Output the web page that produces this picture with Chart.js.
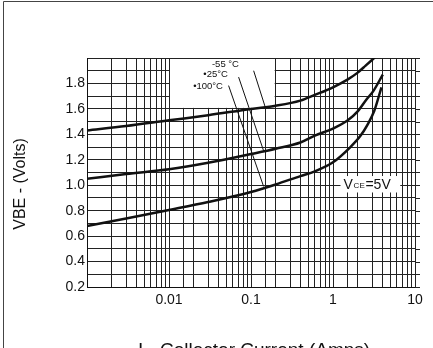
<!DOCTYPE html>
<html>
<head>
<meta charset="utf-8">
<script src="https://cdn.jsdelivr.net/npm/chart.js@4.4.1/dist/chart.umd.min.js"></script>
<style>
  html, body { margin: 0; padding: 0; background: #fff; }
  canvas { display: block; }
</style>
</head>
<body>
<canvas id="vbe-chart" width="433" height="348"></canvas>
<script>
// Ic (Amps) vs VBE (Volts)
const currents55 = [0.001, 0.003, 0.01, 0.03, 0.1, 0.2, 0.4, 0.6, 1, 1.5, 2, 2.5, 3.3];
const vbe55 = [1.43, 1.465, 1.51, 1.55, 1.60, 1.625, 1.665, 1.71, 1.77, 1.83, 1.885, 1.94, 2.01];

const currents25 = [0.001, 0.003, 0.01, 0.03, 0.1, 0.2, 0.4, 0.6, 1, 1.5, 2, 2.6, 3.1, 4.05];
const vbe25 = [1.05, 1.088, 1.125, 1.176, 1.245, 1.287, 1.336, 1.39, 1.445, 1.508, 1.58, 1.68, 1.74, 1.87];

const currents100 = [0.001, 0.003, 0.01, 0.03, 0.1, 0.2, 0.4, 0.6, 1, 1.63, 2.15, 2.62, 3.18, 3.9];
const vbe100 = [0.68, 0.738, 0.805, 0.868, 0.947, 1.006, 1.072, 1.109, 1.18, 1.30, 1.386, 1.473, 1.583, 1.77];

// leader lines from the temperature labels down to the curves
const tempLabels = ['-55 °C', '•25°C', '•100°C'];
const leaderCurrents = [[0.1077, 0.149], [0.0706, 0.1425], [0.0533, 0.1425]];
const leaderVbe = [[1.90, 1.615], [1.85, 1.27], [1.783, 0.99]];

const xTickValues = [0.01, 0.1, 1, 10];
const yTickLabels = ['0.2', '0.4', '0.6', '0.8', '1.0', '1.2', '1.4', '1.6', '1.8'];

const FONT = "'Liberation Sans', Arial, sans-serif";
const INK = '#111';

function toPoints(xs, ys) {
  return xs.map((x, i) => ({ x: x, y: ys[i] }));
}

function curve(xs, ys) {
  return {
    data: toPoints(xs, ys),
    showLine: true,
    borderColor: INK,
    borderWidth: 2.5,
    pointRadius: 0,
    cubicInterpolationMode: 'monotone',
    clip: 0
  };
}

function leader(i) {
  return {
    data: toPoints(leaderCurrents[i], leaderVbe[i]),
    showLine: true,
    borderColor: INK,
    borderWidth: 1,
    pointRadius: 0,
    clip: 0
  };
}

// white patches that blank out the grid behind the annotations
function blank(chart, x0, x1, y0, y1) {
  const xs = chart.scales.x, ys = chart.scales.y;
  const l = xs.getPixelForValue(x0) + 1, r = xs.getPixelForValue(x1) - 1;
  const t = ys.getPixelForValue(y1) + 1, b = ys.getPixelForValue(y0) - 1;
  chart.ctx.fillStyle = '#fff';
  chart.ctx.fillRect(l, t, r - l, b - t);
}

const annotations = {
  id: 'annotations',
  beforeDatasetsDraw(chart) {
    blank(chart, 0.01, 0.2, 1.6, 2.0);
    blank(chart, 1.2, 6.8, 0.935, 1.08);
  },
  afterDatasetsDraw(chart) {
    const ctx = chart.ctx;
    const xs = chart.scales.x, ys = chart.scales.y;
    const area = chart.chartArea;
    ctx.save();
    ctx.fillStyle = INK;
    ctx.strokeStyle = INK;

    // temperature labels
    const labelAt = [[0.0334, 1.95], [0.0262, 1.868], [0.0197, 1.78]];
    ctx.font = '9.5px ' + FONT;
    ctx.textBaseline = 'middle';
    ctx.textAlign = 'left';
    tempLabels.forEach((txt, i) => {
      ctx.fillText(txt, xs.getPixelForValue(labelAt[i][0]), ys.getPixelForValue(labelAt[i][1]));
    });

    // Vce = 5V
    ctx.textBaseline = 'alphabetic';
    const vx = xs.getPixelForValue(1.34), vy = ys.getPixelForValue(0.967);
    ctx.font = '14px ' + FONT;
    ctx.fillText('V', vx, vy);
    ctx.font = '8px ' + FONT;
    ctx.fillText('C', vx + 10, vy - 1.5);
    ctx.fillText('E', vx + 16, vy - 1.5);
    ctx.font = '14px ' + FONT;
    ctx.fillText('=5V', vx + 22, vy);

    // short tick stubs past the right edge
    ctx.lineWidth = 1;
    ctx.strokeStyle = '#222';
    ys.ticks.forEach(t => {
      const y = Math.round(ys.getPixelForValue(t.value)) + 0.5;
      ctx.beginPath();
      ctx.moveTo(area.right, y);
      ctx.lineTo(area.right + 5, y);
      ctx.stroke();
    });

    // axis titles
    ctx.save();
    ctx.translate(21, 184);
    ctx.rotate(-Math.PI / 2);
    ctx.font = '16px ' + FONT;
    ctx.textAlign = 'center';
    ctx.textBaseline = 'middle';
    ctx.fillText('VBE - (Volts)', 0, 0);
    ctx.restore();

    ctx.textAlign = 'left';
    ctx.textBaseline = 'alphabetic';
    ctx.font = '19px ' + FONT;
    ctx.fillText('I', 138, 356);
    ctx.font = '10px ' + FONT;
    ctx.fillText('C', 144, 359);
    ctx.font = '19px ' + FONT;
    ctx.fillText('-', 151, 356);
    ctx.fillText('Collector Current (Amps)', 160, 356);

    // page frame
    ctx.strokeStyle = '#444';
    ctx.beginPath();
    ctx.moveTo(3.5, 348);
    ctx.lineTo(3.5, 1.5);
    ctx.lineTo(433, 1.5);
    ctx.stroke();
    ctx.restore();
  }
};

new Chart(document.getElementById('vbe-chart'), {
  type: 'scatter',
  data: {
    datasets: [
      curve(currents55, vbe55),
      curve(currents25, vbe25),
      curve(currents100, vbe100),
      leader(0),
      leader(1),
      leader(2)
    ]
  },
  options: {
    responsive: false,
    animation: false,
    layout: { padding: { left: 0, top: 58, right: 18, bottom: 0 } },
    plugins: {
      legend: { display: false },
      tooltip: { enabled: false }
    },
    scales: {
      x: {
        type: 'logarithmic',
        min: 0.001,
        max: 10,
        afterFit: s => { s.height = 61; },
        grid: { color: '#222', lineWidth: 1, drawTicks: false },
        border: { color: INK, width: 1 },
        ticks: {
          autoSkip: false,
          maxRotation: 0,
          padding: 5,
          color: INK,
          font: { family: FONT, size: 14 },
          callback: v => {
            const hit = xTickValues.find(t => Math.abs(v - t) / t < 1e-6);
            return hit !== undefined ? String(hit) : '';
          }
        }
      },
      y: {
        type: 'linear',
        min: 0.2,
        max: 2.0,
        afterFit: s => { s.width = 87; },
        grid: { color: '#222', lineWidth: 1, drawTicks: false },
        border: { color: INK, width: 1 },
        ticks: {
          stepSize: 0.1,
          autoSkip: false,
          padding: 2,
          color: INK,
          font: { family: FONT, size: 14 },
          callback: v => {
            const s = (Math.round(v * 10) / 10).toFixed(1);
            return yTickLabels.includes(s) ? s : '';
          }
        }
      }
    }
  },
  plugins: [annotations]
});
</script>
</body>
</html>
